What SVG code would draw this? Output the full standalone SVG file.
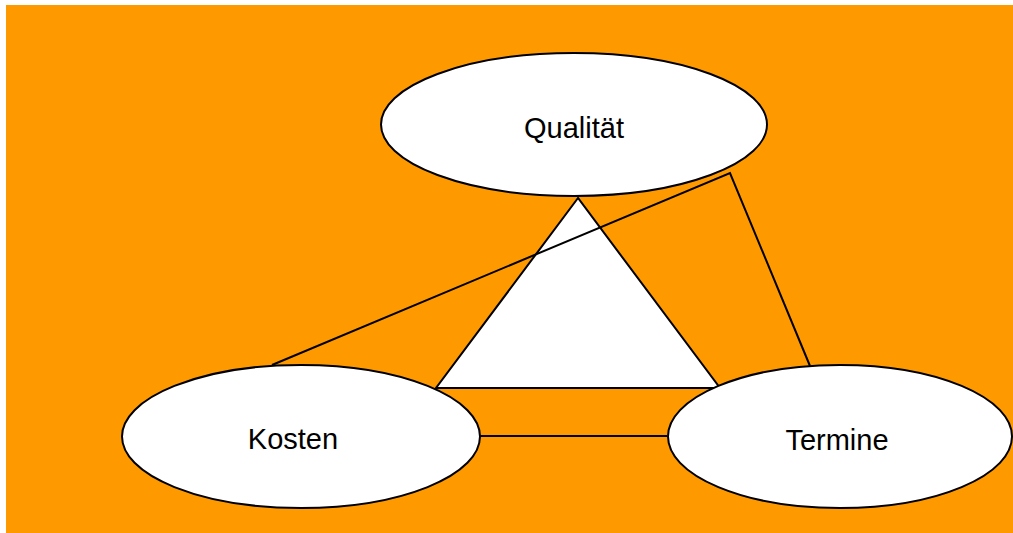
<svg xmlns="http://www.w3.org/2000/svg" width="1013" height="533" viewBox="0 0 1013 533">
  <style>
    .node { fill: #ffffff; stroke: #000000; stroke-width: 2; }
    .label { font-family: "Liberation Sans", Arial, sans-serif; font-size: 29px; fill: #000000; text-anchor: middle; }
    .edge { fill: none; stroke: #000000; stroke-width: 2; stroke-linejoin: miter; }
  </style>
  <rect x="0" y="0" width="1013" height="533" fill="#ffffff"/>
  <rect x="6" y="5" width="1007" height="528" fill="#ff9900"/>

  <g id="triangle">
    <polygon class="node" points="578,198 436,388 720,388"/>
  </g>

  <g id="connectors">
    <polyline class="edge" points="272,365 730,173 810,366"/>
    <line class="edge" x1="480" y1="436" x2="667" y2="436"/>
  </g>

  <g id="qualitaet">
    <ellipse class="node" cx="574" cy="124.5" rx="193" ry="71.5"/>
    <text class="label" x="574" y="138">Qualität</text>
  </g>

  <g id="kosten">
    <ellipse class="node" cx="301" cy="436.5" rx="179" ry="71.5"/>
    <text class="label" x="293" y="449">Kosten</text>
  </g>

  <g id="termine">
    <ellipse class="node" cx="840" cy="436.5" rx="172" ry="71.5"/>
    <text class="label" x="837" y="450">Termine</text>
  </g>
</svg>
